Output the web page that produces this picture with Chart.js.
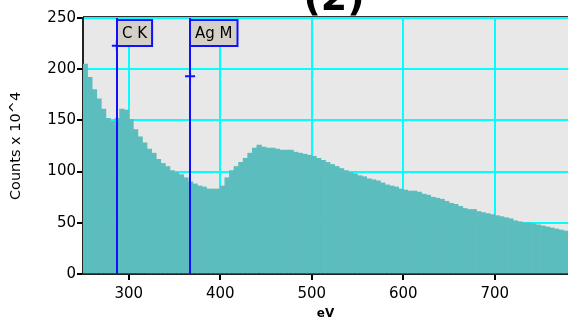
<!DOCTYPE html>
<html>
<head>
<meta charset="utf-8">
<script src="https://cdn.jsdelivr.net/npm/chart.js@4"></script>
<style>
  body { margin: 0; background: #fff; }
  #wrap { width: 568px; height: 325px; }
</style>
</head>
<body>
<div id="wrap"><canvas id="spectrum" width="568" height="325"></canvas></div>
<script>
// bin start energies (eV), 5 eV wide bins
const binWidth = 5;
const energies = [
  250, 255, 260, 265, 270, 275, 280, 285, 290, 295,
  300, 305, 310, 315, 320, 325, 330, 335, 340, 345,
  350, 355, 360, 365, 370, 375, 380, 385, 390, 395,
  400, 405, 410, 415, 420, 425, 430, 435, 440, 445,
  450, 455, 460, 465, 470, 475, 480, 485, 490, 495,
  500, 505, 510, 515, 520, 525, 530, 535, 540, 545,
  550, 555, 560, 565, 570, 575, 580, 585, 590, 595,
  600, 605, 610, 615, 620, 625, 630, 635, 640, 645,
  650, 655, 660, 665, 670, 675, 680, 685, 690, 695,
  700, 705, 710, 715, 720, 725, 730, 735, 740, 745,
  750, 755, 760, 765, 770, 775
];
// counts x 10^4
const counts = [
  205, 192, 180, 171, 161, 152, 149, 152, 161, 160,
  151, 141, 134, 128, 122, 118, 112, 108, 105, 101,
  99, 97, 94, 90, 88, 86, 85, 83, 83, 83,
  86, 94, 101, 105, 109, 113, 118, 123, 126, 124,
  123, 123, 122, 121, 121, 121, 119, 118, 117, 116,
  115, 113, 111, 109, 107, 105, 103, 101, 99, 98,
  96, 95, 93, 92, 91, 89, 87, 86, 85, 83,
  82, 81, 81, 80, 78, 77, 75, 74, 73, 71,
  69, 68, 66, 64, 63, 63, 61, 60, 59, 58,
  57, 56, 55, 54, 52, 51, 50, 50, 49, 48,
  47, 46, 45, 44, 43, 42
];

// element line markers
const markerNames = ['C K', 'Ag M'];
const markerEnergies = [287, 367];
const markerCounts = [223, 193];

const xMin = 250, xMax = 780;
const yTicks = [0, 50, 100, 150, 200, 250];

const FONT = 'DejaVu Sans';

// plot background, top frame line and title
const framePlugin = {
  id: 'frame',
  beforeDraw(chart) {
    const { ctx, chartArea: a } = chart;
    ctx.save();
    ctx.fillStyle = '#e8e8e8';
    ctx.fillRect(a.left, a.top, a.right - a.left, a.bottom - a.top);
    ctx.restore();
  },
  afterDraw(chart) {
    const { ctx, chartArea: a } = chart;
    ctx.save();
    ctx.strokeStyle = '#333';
    ctx.lineWidth = 1;
    ctx.beginPath();
    ctx.moveTo(a.left, a.top - 1.5);
    ctx.lineTo(a.right, a.top - 1.5);
    ctx.stroke();
    ctx.fillStyle = '#000';
    ctx.font = 'bold 38px ' + FONT;
    ctx.textAlign = 'center';
    ctx.textBaseline = 'alphabetic';
    ctx.fillText('(2)', 334, 10);
    ctx.restore();
  }
};

// vertical marker lines with their label boxes
const markerPlugin = {
  id: 'markers',
  afterDatasetsDraw(chart) {
    const { ctx, chartArea: a, scales: { x } } = chart;
    ctx.save();
    markerEnergies.forEach((e, i) => {
      const px = Math.round(x.getPixelForValue(e));
      ctx.strokeStyle = '#1010ff';
      ctx.lineWidth = 2;
      ctx.beginPath();
      ctx.moveTo(px, a.top);
      ctx.lineTo(px, a.bottom);
      ctx.stroke();

      ctx.font = '15px ' + FONT;
      const w = ctx.measureText(markerNames[i]).width + 10;
      const h = 26;
      const top = a.top + 2;
      ctx.fillStyle = '#d4d0c8';
      ctx.fillRect(px, top, w, h);
      ctx.strokeStyle = '#1010ff';
      ctx.strokeRect(px, top, w, h);
      ctx.fillStyle = '#000';
      ctx.textAlign = 'center';
      ctx.textBaseline = 'middle';
      ctx.fillText(markerNames[i], px + w / 2, top + h / 2 + 1);
    });
    ctx.restore();
  }
};

new Chart(document.getElementById('spectrum'), {
  type: 'bar',
  data: {
    datasets: [
      {
        type: 'scatter',
        data: markerEnergies.map((e, i) => ({ x: e, y: markerCounts[i] })),
        pointStyle: 'cross',
        pointRadius: 5,
        borderColor: '#1010ff',
        borderWidth: 2,
        order: 0
      },
      {
        data: energies.map((e, i) => ({ x: e + binWidth / 2, y: counts[i] })),
        backgroundColor: '#5bbdbd',
        borderWidth: 0,
        barPercentage: 1,
        categoryPercentage: 1,
        order: 1
      }
    ]
  },
  options: {
    responsive: false,
    animation: false,
    layout: { autoPadding: false, padding: { top: 18, left: 0, right: 0, bottom: 0 } },
    plugins: {
      legend: { display: false },
      tooltip: { enabled: false }
    },
    scales: {
      x: {
        type: 'linear',
        min: xMin,
        max: xMax,
        offset: false,
        grid: { offset: false, color: '#00ffff', lineWidth: 2, tickColor: '#000', tickWidth: 2, tickLength: 6 },
        border: { color: '#222', width: 2 },
        ticks: {
          stepSize: 100,
          includeBounds: false,
          maxRotation: 0,
          padding: 5,
          color: '#000',
          font: { family: FONT, size: 15 }
        },
        title: {
          display: true,
          text: 'eV',
          color: '#000',
          padding: { top: 0, bottom: 4 },
          font: { family: FONT, size: 12, weight: 'bold' }
        },
        afterFit(s) { s.height = 51; s.paddingLeft = 0; s.paddingRight = 0; }
      },
      y: {
        min: 0,
        max: 250,
        afterBuildTicks(s) { s.ticks = yTicks.map(v => ({ value: v })); },
        grid: { color: '#00ffff', lineWidth: 2, tickColor: '#000', tickWidth: 2, tickLength: 6 },
        border: { color: '#222', width: 2 },
        ticks: {
          padding: 1,
          color: '#000',
          font: { family: FONT, size: 15 }
        },
        title: {
          display: true,
          text: 'Counts x 10^4',
          color: '#000',
          padding: { top: 8, bottom: 0 },
          font: { family: FONT, size: 14.5 }
        },
        afterFit(s) { s.width = 83; s.paddingTop = 0; s.paddingBottom = 0; }
      }
    }
  },
  plugins: [framePlugin, markerPlugin]
});
</script>
</body>
</html>
